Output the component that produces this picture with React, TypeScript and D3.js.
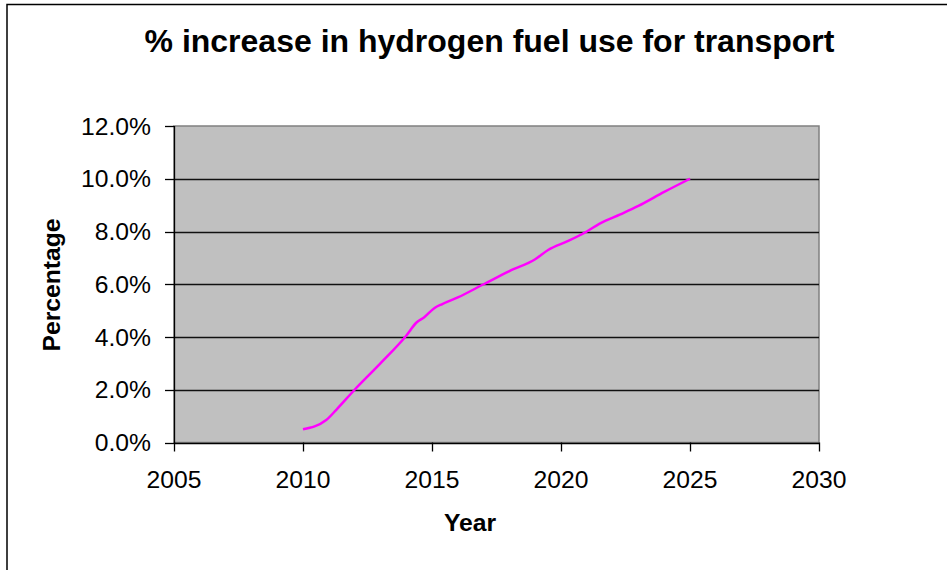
import React from "react";
import * as d3 from "d3";

const years = [2010, 2010.9, 2011.3, 2012, 2013, 2014, 2014.4, 2014.7, 2015.1, 2015.4, 2016, 2017, 2018, 2019, 2019.5, 2020.3, 2021, 2021.5, 2022.3, 2023, 2024, 2025];
const percents = [0.5, 0.85, 1.25, 2.0, 3.0, 4.05, 4.55, 4.75, 5.1, 5.25, 5.5, 6.0, 6.5, 6.95, 7.3, 7.65, 8.0, 8.3, 8.65, 8.97, 9.5, 10.0];
const xTicks = [2005, 2010, 2015, 2020, 2025, 2030];
const yTicks = [0, 2, 4, 6, 8, 10, 12];

const title = "% increase in hydrogen fuel use for transport";
const xTitle = "Year";
const yTitle = "Percentage";

export default function App() {
  const W = 947, H = 570;
  const left = 174, right = 819, top = 126, bottom = 442.5;
  const x = d3.scaleLinear().domain([2005, 2030]).range([left, right]);
  const y = d3.scaleLinear().domain([0, 12]).range([bottom, top]);
  const data = years.map((yr, i) => ({ yr, p: percents[i] }));
  const line = d3.line<{ yr: number; p: number }>()
    .x(d => x(d.yr))
    .y(d => y(d.p))
    .curve(d3.curveMonotoneX);
  const font = "Arial, 'Liberation Sans', sans-serif";
  const r = (v: number) => Math.round(v) + 0.5;

  return (
    <svg width={W} height={H} style={{ position: "absolute", left: 0, top: 0, background: "#fff" }} fontFamily={font}>
      <rect x={7} y={4.5} width={1000} height={700} fill="#fff" stroke="#000" strokeWidth={1.5} />
      <rect x={left} y={top} width={right - left} height={bottom - top} fill="#C0C0C0" stroke="#808080" strokeWidth={1.5} />
      {yTicks.filter(t => t > 0 && t < 12).map(t => (
        <line key={"g" + t} x1={left} x2={right} y1={r(y(t))} y2={r(y(t))} stroke="#111" strokeWidth={1.4} />
      ))}
      <line x1={r(left)} x2={r(left)} y1={top} y2={bottom + 0.5} stroke="#000" strokeWidth={1.3} />
      {yTicks.map(t => (
        <g key={"y" + t}>
          <line x1={left - 9} x2={left} y1={r(y(t))} y2={r(y(t))} stroke="#000" strokeWidth={1.3} />
          <text x={151} y={y(t) + 8.5} textAnchor="end" fontSize={24.7} fill="#000">{t.toFixed(1) + "%"}</text>
        </g>
      ))}
      <line x1={left} x2={right} y1={r(bottom)} y2={r(bottom)} stroke="#000" strokeWidth={1.3} />
      {xTicks.map(t => (
        <g key={"x" + t}>
          <line x1={r(x(t))} x2={r(x(t))} y1={bottom} y2={bottom + 9} stroke="#000" strokeWidth={1.3} />
          <text x={x(t)} y={488} textAnchor="middle" fontSize={24.7} fill="#000">{t}</text>
        </g>
      ))}
      <path d={line(data) || ""} fill="none" stroke="#FF00FF" strokeWidth={2.5} />
      <text x={489.5} y={52} textAnchor="middle" fontSize={32} fontWeight="bold" fill="#000">{title}</text>
      <text x={470} y={531} textAnchor="middle" fontSize={24.7} fontWeight="bold" fill="#000">{xTitle}</text>
      <text transform={`translate(60,285) rotate(-90)`} textAnchor="middle" fontSize={24.7} fontWeight="bold" fill="#000">{yTitle}</text>
    </svg>
  );
}
